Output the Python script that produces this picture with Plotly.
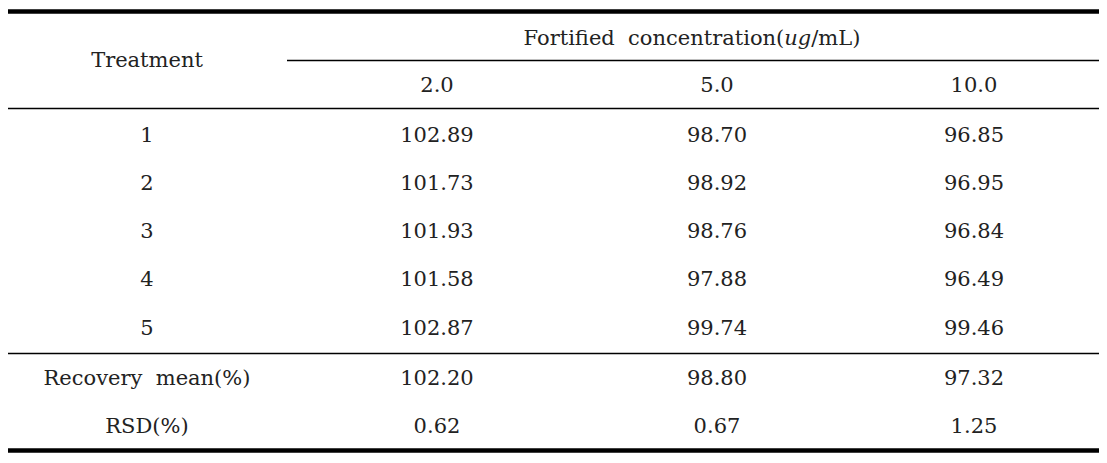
import plotly.graph_objects as go

# ---- data ----
header_title = "Fortified&nbsp; concentration(<i>ug</i>/mL)"
row_header = "Treatment"
concentrations = ["2.0", "5.0", "10.0"]
treatments = ["1", "2", "3", "4", "5"]
conc_2 = ["102.89", "101.73", "101.93", "101.58", "102.87"]
conc_5 = ["98.70", "98.92", "98.76", "97.88", "99.74"]
conc_10 = ["96.85", "96.95", "96.84", "96.49", "99.46"]
summary_labels = ["Recovery&nbsp; mean(%)", "RSD(%)"]
summary_2 = ["102.20", "0.62"]
summary_5 = ["98.80", "0.67"]
summary_10 = ["97.32", "1.25"]

# ---- layout (page pixel grid; page body has an 8px margin) ----
W, H = 1107, 463
OFF = 8
DY = 2
col_x = [147, 437, 717, 974]
title_y = 38 + DY
head_y = 60 + DY
conc_y = 85 + DY
row_y = [v + DY for v in (135, 183, 231, 279, 328)]
sum_y = [v + DY for v in (378, 426)]

FONT = "DejaVu Serif"
FS = 21
COLOR = "#222222"

fig = go.Figure()

def add_text(xs, ys, texts, size=FS):
    fig.add_trace(go.Scatter(
        x=xs, y=ys, text=texts, mode="text",
        textposition="middle center",
        textfont=dict(family=FONT, size=size, color=COLOR),
        hoverinfo="skip", showlegend=False,
    ))

add_text([col_x[0]], [head_y], [row_header])
add_text([692], [title_y], [header_title])
add_text(col_x[1:], [conc_y] * 3, concentrations)

add_text([col_x[0]] * len(treatments), row_y, treatments)
add_text([col_x[1]] * 5, row_y, conc_2)
add_text([col_x[2]] * 5, row_y, conc_5)
add_text([col_x[3]] * 5, row_y, conc_10)

add_text([col_x[0]] * 2, sum_y, summary_labels)
add_text([col_x[1]] * 2, sum_y, summary_2)
add_text([col_x[2]] * 2, sum_y, summary_5)
add_text([col_x[3]] * 2, sum_y, summary_10)

# rules
lines = [
    (6, 1100, 11.5, 4.5),
    (287, 1100, 60.5, 1.5),
    (6, 1100, 108.5, 1.5),
    (6, 1100, 353.5, 1.5),
    (6, 1100, 450.5, 4.5),
]
for x0, x1, y, w in lines:
    fig.add_shape(type="line", xref="x", yref="y", x0=x0, x1=x1, y0=y, y1=y,
                  line=dict(color="black", width=w))

fig.update_layout(
    width=W, height=H,
    margin=dict(l=0, r=0, t=0, b=0),
    paper_bgcolor="white", plot_bgcolor="white",
    xaxis=dict(range=[OFF, W + OFF], visible=False, fixedrange=True),
    yaxis=dict(range=[H + OFF, OFF], visible=False, fixedrange=True),
)

fig.write_html("out.html")
